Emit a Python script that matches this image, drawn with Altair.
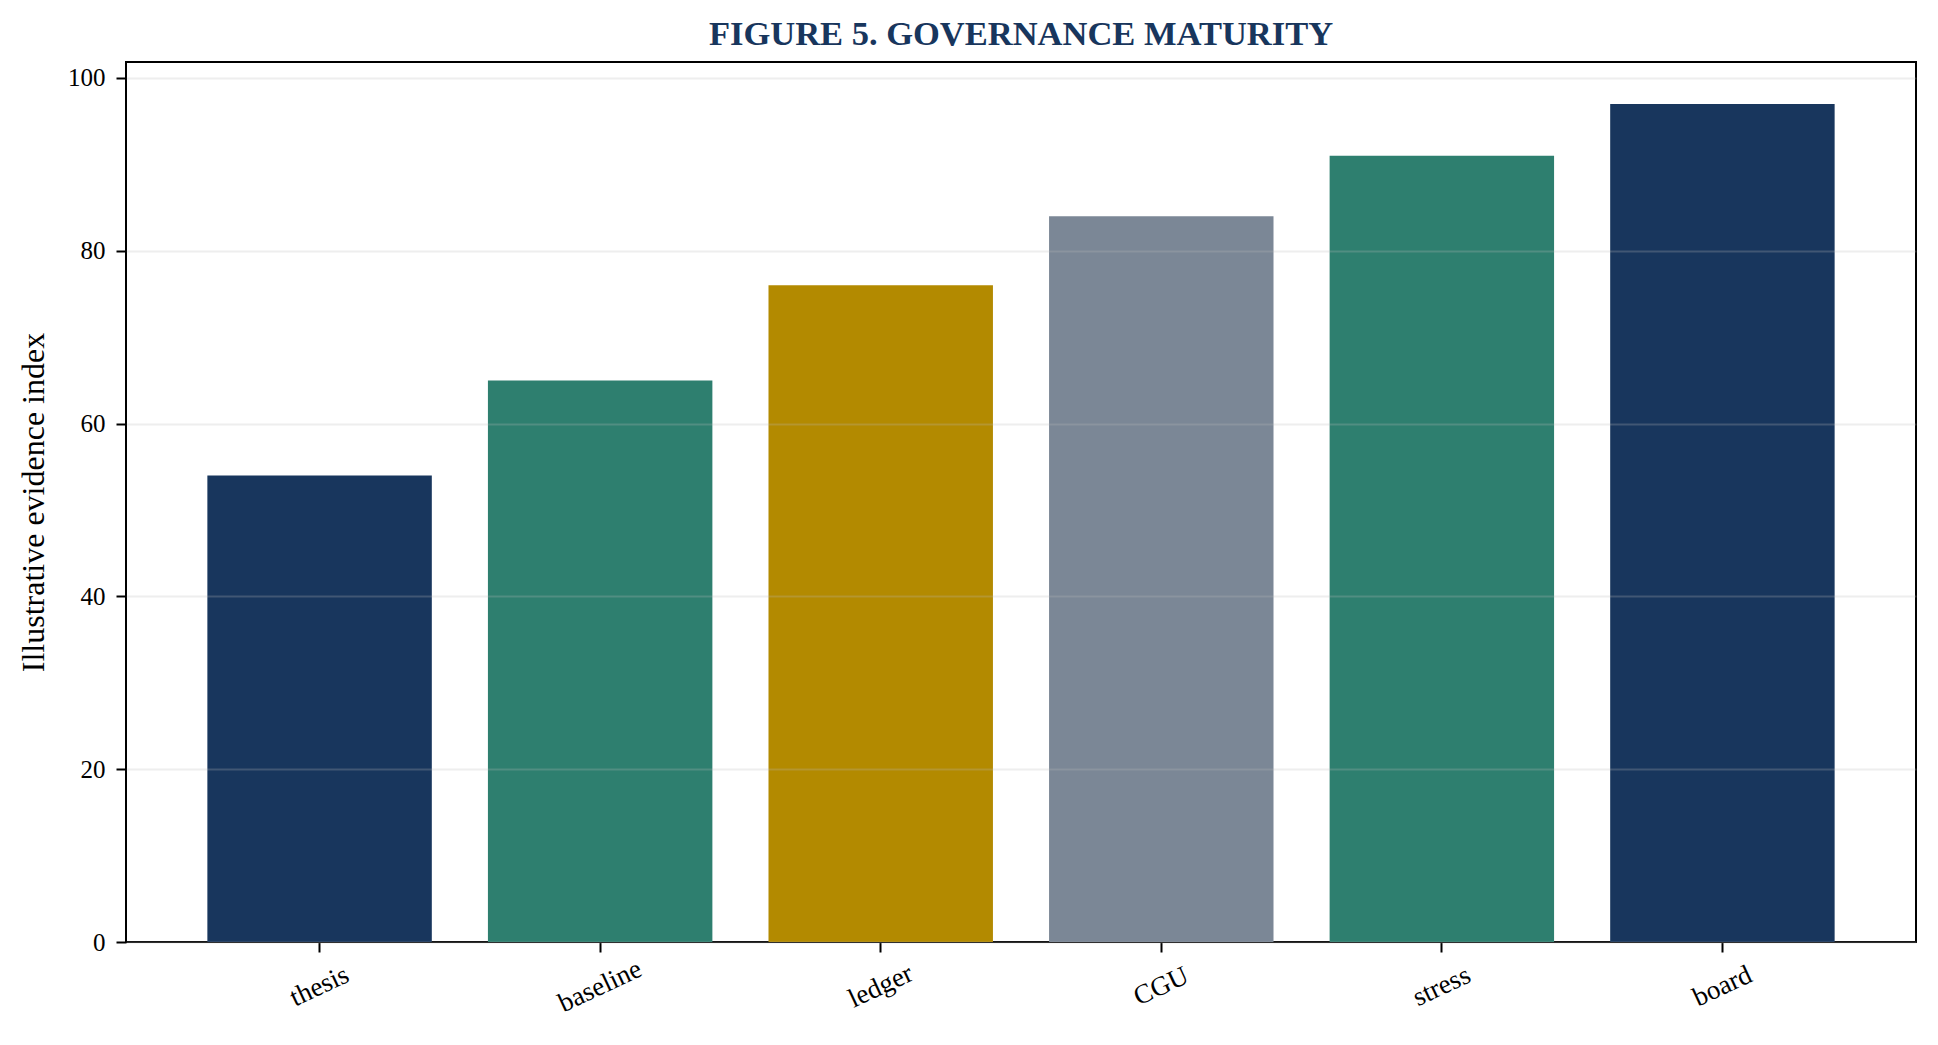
import altair as alt
import pandas as pd

# data
stages = ["thesis", "baseline", "ledger", "CGU", "stress", "board"]
scores = [54, 65, 76, 84, 91, 97]
bar_colors = ["#18365d", "#2e7f6f", "#b38a00", "#7b8796", "#2e7f6f", "#18365d"]

NAVY = "#18365d"
FONT = "Liberation Serif"

df = pd.DataFrame({"stage": stages, "score": scores, "shade": [f"c{i}" for i in range(len(stages))]})

bars = (
    alt.Chart(df)
    .mark_bar()
    .encode(
        x=alt.X(
            "stage:N",
            sort=stages,
            scale=alt.Scale(paddingInner=0.2, paddingOuter=0.29),
            axis=alt.Axis(
                title=None,
                labelAngle=335,
                labelAlign="center",
                labelBaseline="middle",
                labelPadding=34,
                labelFont=FONT,
                labelFontSize=27,
                labelColor="black",
                tickSize=10,
                tickWidth=2,
                tickColor="black",
                domain=False,
                grid=False,
            ),
        ),
        y=alt.Y(
            "score:Q",
            scale=alt.Scale(domain=[0, 101.85], nice=False),
            axis=alt.Axis(
                title="Illustrative evidence index",
                titleFont=FONT,
                titleFontSize=32,
                titleFontWeight="normal",
                titleColor="black",
                titleAngle=270,
                titleBaseline="alphabetic",
                titleX=-83,
                titleY=440,
                values=[0, 20, 40, 60, 80, 100],
                labelFont=FONT,
                labelFontSize=25,
                labelColor="black",
                labelPadding=11,
                tickSize=10,
                tickWidth=2,
                tickColor="black",
                domain=False,
                grid=True,
                gridColor="#bbbbbb",
                gridOpacity=0.25,
                gridWidth=2,
                zindex=1,
            ),
        ),
        color=alt.Color(
            "shade:N",
            scale=alt.Scale(domain=list(df["shade"]), range=bar_colors),
            legend=None,
        ),
    )
)

chart = (
    bars.properties(
        width=1790,
        height=880,
        background="white",
        title=alt.TitleParams(
            "FIGURE 5. GOVERNANCE MATURITY",
            font=FONT,
            fontSize=34.5,
            fontWeight="bold",
            color=NAVY,
            anchor="middle",
            frame="group",
            baseline="bottom",
            offset=9,
            dy=33,
        ),
        autosize=alt.AutoSizeParams(type="none"),
        padding={"left": 118, "top": 54, "right": 14, "bottom": 95},
    )
    .configure_view(stroke="black", strokeWidth=2)
)

chart.save("out.html", embed_options={"renderer": "svg", "actions": False})
